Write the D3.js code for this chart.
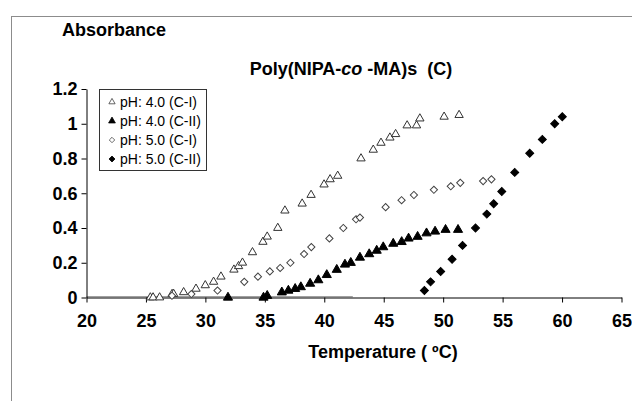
<!DOCTYPE html>
<html>
<head>
<meta charset="utf-8">
<script src="https://cdn.jsdelivr.net/npm/d3@7"></script>
<style>
  html, body { margin: 0; padding: 0; background: #fff; }
  svg { display: block; }
  text { font-family: "Liberation Sans", Arial, sans-serif; }
</style>
</head>
<body>
<svg id="chart" width="632" height="401"></svg>
<script>
// ---- data ----
const xTicks = [20, 25, 30, 35, 40, 45, 50, 55, 60, 65];
const yTicks = [0, 0.2, 0.4, 0.6, 0.8, 1, 1.2];
const yTickLabels = ["0", "0.2", "0.4", "0.6", "0.8", "1", "1.2"];

const seriesNames = ["pH: 4.0 (C-I)", "pH: 4.0 (C-II)", "pH: 5.0 (C-I)", "pH: 5.0 (C-II)"];

const tempA = [25.37,25.60,26.15,27.20,27.33,28.17,29.21,29.99,30.69,31.31,32.40,32.79,33.12,33.96,34.84,35.20,36.09,36.69,38.14,38.89,39.98,40.49,41.13,43.09,44.12,44.77,45.52,46.00,46.97,47.76,48.04,50.08,51.34];
const absA  = [0.00,0.00,0.00,0.02,0.02,0.03,0.05,0.07,0.09,0.12,0.16,0.18,0.20,0.26,0.32,0.35,0.40,0.50,0.54,0.59,0.65,0.68,0.70,0.80,0.85,0.89,0.92,0.94,0.99,0.99,1.03,1.04,1.05];

const tempB = [31.90,34.89,35.20,36.43,36.98,37.55,38.03,38.81,39.50,40.21,41.05,41.74,42.23,43.00,43.78,44.41,44.96,45.80,46.51,47.09,47.85,48.60,49.32,50.20,51.25];
const absB  = [0.00,0.00,0.01,0.03,0.04,0.05,0.06,0.08,0.10,0.13,0.16,0.19,0.20,0.23,0.25,0.27,0.29,0.31,0.32,0.34,0.35,0.37,0.38,0.39,0.39];

const tempC = [27.19,28.82,31.02,33.27,34.42,35.42,36.29,37.15,38.30,38.91,40.43,41.60,42.67,43.00,45.16,46.50,47.54,49.22,50.64,51.44,53.36,54.06];
const absC  = [0.01,0.02,0.04,0.09,0.12,0.15,0.17,0.20,0.25,0.29,0.34,0.40,0.45,0.46,0.52,0.56,0.59,0.62,0.64,0.66,0.67,0.68];

const tempD = [48.42,48.94,49.79,50.75,51.63,52.72,53.67,54.25,54.93,56.02,57.28,58.34,59.38,60.02];
const absD  = [0.04,0.09,0.15,0.22,0.30,0.40,0.48,0.54,0.61,0.72,0.83,0.91,1.00,1.04];

const baselineT = [20, 42.4];
const baselineV = [0, 0];

// ---- layout ----
const svg = d3.select("#chart");
const x = d3.scaleLinear().domain([20, 65]).range([86.5, 621.5]);
const y = d3.scaleLinear().domain([0, 1.2]).range([297.5, 89]);

// frame
svg.append("rect").attr("x", 11.5).attr("y", 16.5).attr("width", 700).attr("height", 500)
  .attr("fill", "none").attr("stroke", "#8c8c8c").attr("stroke-width", 1);

// gray baseline
const bl = baselineT.map((t, i) => [t, baselineV[i]]);
svg.append("path").datum(bl)
  .attr("d", d3.line().x(d => x(d[0])).y(d => y(d[1]) - 0.8))
  .attr("stroke", "#a0a0a0").attr("stroke-width", 1.2).attr("fill", "none");

// x axis
const xAxis = svg.append("g").attr("transform", `translate(0,${y(0)})`)
  .call(d3.axisBottom(x).tickValues(xTicks).tickSize(5).tickSizeOuter(0).tickFormat(d3.format("d")));
xAxis.select(".domain").attr("stroke", "#000");
xAxis.selectAll(".tick line").attr("stroke", "#000");
xAxis.selectAll(".tick text").attr("font-size", 18).attr("font-weight", "bold")
  .attr("fill", "#000").attr("y", 17).attr("dy", "0.71em")
  .attr("font-family", "'Liberation Sans', Arial, sans-serif");

// y axis
const yAxis = svg.append("g").attr("transform", `translate(${x(20)},0)`)
  .call(d3.axisLeft(y).tickValues(yTicks).tickSize(5).tickSizeOuter(0)
    .tickFormat((d, i) => yTickLabels[i]));
yAxis.select(".domain").attr("stroke", "#000");
yAxis.selectAll(".tick line").attr("stroke", "#000");
yAxis.selectAll(".tick text").attr("font-size", 18).attr("font-weight", "bold")
  .attr("fill", "#000").attr("x", -9)
  .attr("font-family", "'Liberation Sans', Arial, sans-serif");

// texts
svg.append("text").attr("x", 62).attr("y", 36).attr("font-size", 18).attr("font-weight", "bold")
  .text("Absorbance");

const title = svg.append("text").attr("x", 351).attr("y", 75).attr("text-anchor", "middle")
  .attr("font-size", 18).attr("font-weight", "bold");
title.append("tspan").text("Poly(NIPA-");
title.append("tspan").attr("font-style", "italic").text("co");
title.append("tspan").text(" -MA)s\u00a0\u00a0(C)");

svg.append("text").attr("x", 383).attr("y", 358).attr("text-anchor", "middle")
  .attr("font-size", 18).attr("font-weight", "bold")
  .text("Temperature ( \u00baC)");

// markers
const tri = (s) => d3.symbol(d3.symbolTriangle, s)();
const dia = (s) => d3.symbol(d3.symbolSquare, s)();
const styles = [
  { path: tri(30), fill: "#fff", stroke: "#333", rot: 0 },
  { path: tri(36), fill: "#000", stroke: "#000", rot: 0 },
  { path: dia(26), fill: "#fff", stroke: "#444", rot: 45 },
  { path: dia(32), fill: "#000", stroke: "#000", rot: 45 }
];
const seriesData = [
  tempA.map((t, i) => [t, absA[i]]),
  tempB.map((t, i) => [t, absB[i]]),
  tempC.map((t, i) => [t, absC[i]]),
  tempD.map((t, i) => [t, absD[i]])
];

seriesData.forEach((data, si) => {
  const st = styles[si];
  svg.append("g").selectAll("path").data(data).join("path")
    .attr("d", st.path)
    .attr("transform", d => `translate(${x(d[0])},${y(d[1])}) rotate(${st.rot})`)
    .attr("fill", st.fill).attr("stroke", st.stroke).attr("stroke-width", 1);
});

// legend
const lg = svg.append("g");
lg.append("rect").attr("x", 99.5).attr("y", 89.5).attr("width", 107).attr("height", 81)
  .attr("fill", "#fff").attr("stroke", "#333").attr("stroke-width", 1);
seriesNames.forEach((name, i) => {
  const cy = 102 + i * 19;
  const st = styles[i];
  lg.append("path").attr("d", st.path)
    .attr("transform", `translate(112,${cy}) rotate(${st.rot}) scale(0.75)`)
    .attr("fill", st.fill).attr("stroke", st.stroke).attr("stroke-width", 1);
  lg.append("text").attr("x", 120).attr("y", cy + 5).attr("font-size", 14).attr("fill", "#000")
    .text(name);
});
</script>
</body>
</html>
